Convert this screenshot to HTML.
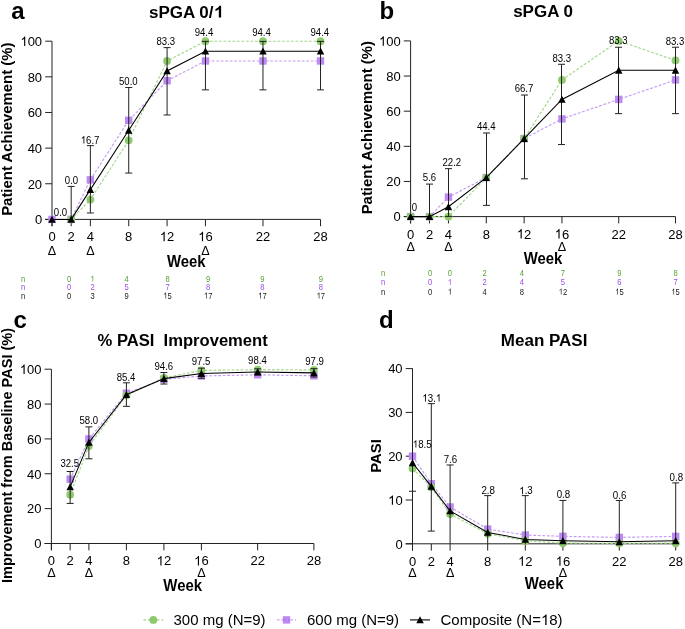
<!DOCTYPE html>
<html><head><meta charset="utf-8"><style>
html,body{margin:0;padding:0;background:#fff;}
body{width:685px;height:629px;overflow:hidden;}
svg{display:block;font-family:"Liberation Sans", sans-serif;will-change:transform;}
</style></head><body>
<svg width="685" height="629" viewBox="0 0 685 629">
<rect width="685" height="629" fill="#fff"/>
<line x1="52" y1="226.2" x2="52" y2="41.2" stroke="#222" stroke-width="1" />
<line x1="45.2" y1="219.4" x2="320.52" y2="219.4" stroke="#222" stroke-width="1" />
<line x1="45.2" y1="219.4" x2="52" y2="219.4" stroke="#222" stroke-width="1" />
<text transform="translate(42.1,224.25) scale(0.9489,1)" font-size="13.7" text-anchor="end" fill="#000" >0</text>
<line x1="45.2" y1="183.76" x2="52" y2="183.76" stroke="#222" stroke-width="1" />
<text transform="translate(42.1,188.61) scale(0.9489,1)" font-size="13.7" text-anchor="end" fill="#000" >20</text>
<line x1="45.2" y1="148.12" x2="52" y2="148.12" stroke="#222" stroke-width="1" />
<text transform="translate(42.1,152.97) scale(0.9489,1)" font-size="13.7" text-anchor="end" fill="#000" >40</text>
<line x1="45.2" y1="112.48" x2="52" y2="112.48" stroke="#222" stroke-width="1" />
<text transform="translate(42.1,117.33) scale(0.9489,1)" font-size="13.7" text-anchor="end" fill="#000" >60</text>
<line x1="45.2" y1="76.84" x2="52" y2="76.84" stroke="#222" stroke-width="1" />
<text transform="translate(42.1,81.69) scale(0.9489,1)" font-size="13.7" text-anchor="end" fill="#000" >80</text>
<line x1="45.2" y1="41.2" x2="52" y2="41.2" stroke="#222" stroke-width="1" />
<g transform="translate(42.1,46.05) scale(0.9489,1)" fill="#000"><path transform="translate(-22.858,0) scale(0.00669,-0.00669)" d="M763,0L583,0L583,1102Q480,1009 223,889L223,1055Q430,1153 530,1269Q590,1336 646,1409L763,1409Z"/><text x="-15.24" font-size="13.7" >00</text></g>
<line x1="52" y1="219.4" x2="52" y2="226.2" stroke="#222" stroke-width="1" />
<text transform="translate(52,241.3) scale(0.9489,1)" font-size="13.7" text-anchor="middle" fill="#000" >0</text>
<line x1="71.18" y1="219.4" x2="71.18" y2="226.2" stroke="#222" stroke-width="1" />
<text transform="translate(71.18,241.3) scale(0.9489,1)" font-size="13.7" text-anchor="middle" fill="#000" >2</text>
<line x1="90.36" y1="219.4" x2="90.36" y2="226.2" stroke="#222" stroke-width="1" />
<text transform="translate(90.36,241.3) scale(0.9489,1)" font-size="13.7" text-anchor="middle" fill="#000" >4</text>
<line x1="128.72" y1="219.4" x2="128.72" y2="226.2" stroke="#222" stroke-width="1" />
<text transform="translate(128.72,241.3) scale(0.9489,1)" font-size="13.7" text-anchor="middle" fill="#000" >8</text>
<line x1="167.08" y1="219.4" x2="167.08" y2="226.2" stroke="#222" stroke-width="1" />
<g transform="translate(167.08,241.3) scale(0.9489,1)" fill="#000"><path transform="translate(-7.619,0) scale(0.00669,-0.00669)" d="M763,0L583,0L583,1102Q480,1009 223,889L223,1055Q430,1153 530,1269Q590,1336 646,1409L763,1409Z"/><text x="0" font-size="13.7" >2</text></g>
<line x1="205.44" y1="219.4" x2="205.44" y2="226.2" stroke="#222" stroke-width="1" />
<g transform="translate(205.44,241.3) scale(0.9489,1)" fill="#000"><path transform="translate(-7.619,0) scale(0.00669,-0.00669)" d="M763,0L583,0L583,1102Q480,1009 223,889L223,1055Q430,1153 530,1269Q590,1336 646,1409L763,1409Z"/><text x="0" font-size="13.7" >6</text></g>
<line x1="262.98" y1="219.4" x2="262.98" y2="226.2" stroke="#222" stroke-width="1" />
<text transform="translate(262.98,241.3) scale(0.9489,1)" font-size="13.7" text-anchor="middle" fill="#000" >22</text>
<line x1="320.52" y1="219.4" x2="320.52" y2="226.2" stroke="#222" stroke-width="1" />
<text transform="translate(320.52,241.3) scale(0.9489,1)" font-size="13.7" text-anchor="middle" fill="#000" >28</text>
<text transform="translate(52,254.6) scale(0.9524,1)" font-size="13.23" text-anchor="middle" fill="#000" >Δ</text>
<text transform="translate(90.36,254.6) scale(0.9524,1)" font-size="13.23" text-anchor="middle" fill="#000" >Δ</text>
<text transform="translate(205.44,254.6) scale(0.9524,1)" font-size="13.23" text-anchor="middle" fill="#000" >Δ</text>
<text transform="translate(186.26,267) scale(0.9524,1)" font-size="15.65" text-anchor="middle" font-weight="bold" fill="#000" >Week</text>
<text transform="translate(12,129.2) rotate(-90) scale(1.0000,1)" font-size="14.9" text-anchor="middle" font-weight="bold" fill="#000" >Patient Achievement (%)</text>
<g transform="translate(186.26,17.6) scale(0.9804,1)" fill="#000"><text x="-38.07" font-size="17.34" font-weight="bold" xml:space="preserve">sPGA 0/</text><path transform="translate(28.427,0) scale(0.00847,-0.00847)" d="M843,0L562,0L562,996Q400,865 160,788L160,1026Q300,1072 440,1173Q590,1278 640,1409L843,1409Z"/></g>
<text transform="translate(11.2,18.7) scale(1.0000,1)" font-size="24" text-anchor="start" font-weight="bold" fill="#000" >a</text>
<path d="M52,219.4 L71.18,219.4 L90.36,179.84 L128.72,120.32 L167.08,80.76 L205.44,60.98 L262.98,60.98 L320.52,60.98" fill="none" stroke="#c59cf3" stroke-width="1.15" stroke-dasharray="2.8 1.7"/>
<rect x="48.3" y="215.7" width="7.4" height="7.4" fill="#bd89f2"/>
<rect x="67.48" y="215.7" width="7.4" height="7.4" fill="#bd89f2"/>
<rect x="86.66" y="176.14" width="7.4" height="7.4" fill="#bd89f2"/>
<rect x="125.02" y="116.62" width="7.4" height="7.4" fill="#bd89f2"/>
<rect x="163.38" y="77.06" width="7.4" height="7.4" fill="#bd89f2"/>
<rect x="201.74" y="57.28" width="7.4" height="7.4" fill="#bd89f2"/>
<rect x="259.28" y="57.28" width="7.4" height="7.4" fill="#bd89f2"/>
<rect x="316.82" y="57.28" width="7.4" height="7.4" fill="#bd89f2"/>
<path d="M71.18,219.4 L90.36,199.62 L128.72,140.28 L167.08,60.98 L205.44,41.2 L262.98,41.2 L320.52,41.2" fill="none" stroke="#a3d88b" stroke-width="1.15" stroke-dasharray="2.8 1.7"/>
<circle cx="71.18" cy="219.4" r="3.9" fill="#8fcb6e"/>
<circle cx="90.36" cy="199.62" r="3.9" fill="#8fcb6e"/>
<circle cx="128.72" cy="140.28" r="3.9" fill="#8fcb6e"/>
<circle cx="167.08" cy="60.98" r="3.9" fill="#8fcb6e"/>
<circle cx="205.44" cy="41.2" r="3.9" fill="#8fcb6e"/>
<circle cx="262.98" cy="41.2" r="3.9" fill="#8fcb6e"/>
<circle cx="320.52" cy="41.2" r="3.9" fill="#8fcb6e"/>
<line x1="71.18" y1="219.4" x2="71.18" y2="186.43" stroke="#222" stroke-width="1" />
<line x1="67.68" y1="186.43" x2="74.68" y2="186.43" stroke="#222" stroke-width="1" />
<line x1="90.36" y1="212.98" x2="90.36" y2="145.63" stroke="#222" stroke-width="1" />
<line x1="86.86" y1="212.98" x2="93.86" y2="212.98" stroke="#222" stroke-width="1" />
<line x1="86.86" y1="145.63" x2="93.86" y2="145.63" stroke="#222" stroke-width="1" />
<line x1="128.72" y1="173.07" x2="128.72" y2="87.53" stroke="#222" stroke-width="1" />
<line x1="125.22" y1="173.07" x2="132.22" y2="173.07" stroke="#222" stroke-width="1" />
<line x1="125.22" y1="87.53" x2="132.22" y2="87.53" stroke="#222" stroke-width="1" />
<line x1="167.08" y1="114.97" x2="167.08" y2="47.62" stroke="#222" stroke-width="1" />
<line x1="163.58" y1="114.97" x2="170.58" y2="114.97" stroke="#222" stroke-width="1" />
<line x1="163.58" y1="47.62" x2="170.58" y2="47.62" stroke="#222" stroke-width="1" />
<line x1="205.44" y1="89.85" x2="205.44" y2="41.38" stroke="#222" stroke-width="1" />
<line x1="201.94" y1="89.85" x2="208.94" y2="89.85" stroke="#222" stroke-width="1" />
<line x1="201.94" y1="41.38" x2="208.94" y2="41.38" stroke="#222" stroke-width="1" />
<line x1="262.98" y1="89.85" x2="262.98" y2="41.38" stroke="#222" stroke-width="1" />
<line x1="259.48" y1="89.85" x2="266.48" y2="89.85" stroke="#222" stroke-width="1" />
<line x1="259.48" y1="41.38" x2="266.48" y2="41.38" stroke="#222" stroke-width="1" />
<line x1="320.52" y1="89.85" x2="320.52" y2="41.38" stroke="#222" stroke-width="1" />
<line x1="317.02" y1="89.85" x2="324.02" y2="89.85" stroke="#222" stroke-width="1" />
<line x1="317.02" y1="41.38" x2="324.02" y2="41.38" stroke="#222" stroke-width="1" />
<path d="M52,219.4 L71.18,219.4 L90.36,189.64 L128.72,130.3 L167.08,70.96 L205.44,51.18 L262.98,51.18 L320.52,51.18" fill="none" stroke="#000" stroke-width="1.05"/>
<path d="M48.25,222.8 L55.75,222.8 L52,215.7 Z" fill="#000"/>
<path d="M67.43,222.8 L74.93,222.8 L71.18,215.7 Z" fill="#000"/>
<path d="M86.61,193.04 L94.11,193.04 L90.36,185.94 Z" fill="#000"/>
<path d="M124.97,133.7 L132.47,133.7 L128.72,126.6 Z" fill="#000"/>
<path d="M163.33,74.36 L170.83,74.36 L167.08,67.26 Z" fill="#000"/>
<path d="M201.69,54.58 L209.19,54.58 L205.44,47.48 Z" fill="#000"/>
<path d="M259.23,54.58 L266.73,54.58 L262.98,47.48 Z" fill="#000"/>
<path d="M316.77,54.58 L324.27,54.58 L320.52,47.48 Z" fill="#000"/>
<text transform="translate(60.5,216.1) scale(0.8889,1)" font-size="10.8" text-anchor="middle" fill="#000" >0.0</text>
<text transform="translate(71.5,183.7) scale(0.8889,1)" font-size="10.8" text-anchor="middle" fill="#000" >0.0</text>
<g transform="translate(90.1,143.5) scale(0.8889,1)" fill="#000"><path transform="translate(-10.510,0) scale(0.00527,-0.00527)" d="M763,0L583,0L583,1102Q480,1009 223,889L223,1055Q430,1153 530,1269Q590,1336 646,1409L763,1409Z"/><text x="-4.5" font-size="10.8" >6.7</text></g>
<text transform="translate(128.3,84.9) scale(0.8889,1)" font-size="10.8" text-anchor="middle" fill="#000" >50.0</text>
<text transform="translate(165.7,44.9) scale(0.8889,1)" font-size="10.8" text-anchor="middle" fill="#000" >83.3</text>
<text transform="translate(204,36.4) scale(0.8889,1)" font-size="10.8" text-anchor="middle" fill="#000" >94.4</text>
<text transform="translate(261.5,36.4) scale(0.8889,1)" font-size="10.8" text-anchor="middle" fill="#000" >94.4</text>
<text transform="translate(319.8,36.4) scale(0.8889,1)" font-size="10.8" text-anchor="middle" fill="#000" >94.4</text>
<text transform="translate(23,281.7) scale(0.8636,1)" font-size="8.8" text-anchor="middle" fill="#5a9f3a" >n</text>
<text transform="translate(69.2,281.7) scale(0.8636,1)" font-size="8.8" text-anchor="middle" fill="#5a9f3a" >0</text>
<g transform="translate(92.5,281.7) scale(0.8636,1)" fill="#5a9f3a"><path transform="translate(-2.447,0) scale(0.00430,-0.00430)" d="M763,0L583,0L583,1102Q480,1009 223,889L223,1055Q430,1153 530,1269Q590,1336 646,1409L763,1409Z"/></g>
<text transform="translate(126.5,281.7) scale(0.8636,1)" font-size="8.8" text-anchor="middle" fill="#5a9f3a" >4</text>
<text transform="translate(167.5,281.7) scale(0.8636,1)" font-size="8.8" text-anchor="middle" fill="#5a9f3a" >8</text>
<text transform="translate(208.2,281.7) scale(0.8636,1)" font-size="8.8" text-anchor="middle" fill="#5a9f3a" >9</text>
<text transform="translate(262.4,281.7) scale(0.8636,1)" font-size="8.8" text-anchor="middle" fill="#5a9f3a" >9</text>
<text transform="translate(320.8,281.7) scale(0.8636,1)" font-size="8.8" text-anchor="middle" fill="#5a9f3a" >9</text>
<text transform="translate(23,290.1) scale(0.8636,1)" font-size="8.8" text-anchor="middle" fill="#9e4ee6" >n</text>
<text transform="translate(69.2,290.1) scale(0.8636,1)" font-size="8.8" text-anchor="middle" fill="#9e4ee6" >0</text>
<text transform="translate(92.5,290.1) scale(0.8636,1)" font-size="8.8" text-anchor="middle" fill="#9e4ee6" >2</text>
<text transform="translate(126.5,290.1) scale(0.8636,1)" font-size="8.8" text-anchor="middle" fill="#9e4ee6" >5</text>
<text transform="translate(167.5,290.1) scale(0.8636,1)" font-size="8.8" text-anchor="middle" fill="#9e4ee6" >7</text>
<text transform="translate(208.2,290.1) scale(0.8636,1)" font-size="8.8" text-anchor="middle" fill="#9e4ee6" >8</text>
<text transform="translate(262.4,290.1) scale(0.8636,1)" font-size="8.8" text-anchor="middle" fill="#9e4ee6" >8</text>
<text transform="translate(320.8,290.1) scale(0.8636,1)" font-size="8.8" text-anchor="middle" fill="#9e4ee6" >8</text>
<text transform="translate(23,298.5) scale(0.8636,1)" font-size="8.8" text-anchor="middle" fill="#222" >n</text>
<text transform="translate(69.2,298.5) scale(0.8636,1)" font-size="8.8" text-anchor="middle" fill="#222" >0</text>
<text transform="translate(92.5,298.5) scale(0.8636,1)" font-size="8.8" text-anchor="middle" fill="#222" >3</text>
<text transform="translate(126.5,298.5) scale(0.8636,1)" font-size="8.8" text-anchor="middle" fill="#222" >9</text>
<g transform="translate(167.5,298.5) scale(0.8636,1)" fill="#222"><path transform="translate(-4.894,0) scale(0.00430,-0.00430)" d="M763,0L583,0L583,1102Q480,1009 223,889L223,1055Q430,1153 530,1269Q590,1336 646,1409L763,1409Z"/><text x="0" font-size="8.8" >5</text></g>
<g transform="translate(208.2,298.5) scale(0.8636,1)" fill="#222"><path transform="translate(-4.894,0) scale(0.00430,-0.00430)" d="M763,0L583,0L583,1102Q480,1009 223,889L223,1055Q430,1153 530,1269Q590,1336 646,1409L763,1409Z"/><text x="0" font-size="8.8" >7</text></g>
<g transform="translate(262.4,298.5) scale(0.8636,1)" fill="#222"><path transform="translate(-4.894,0) scale(0.00430,-0.00430)" d="M763,0L583,0L583,1102Q480,1009 223,889L223,1055Q430,1153 530,1269Q590,1336 646,1409L763,1409Z"/><text x="0" font-size="8.8" >7</text></g>
<g transform="translate(320.8,298.5) scale(0.8636,1)" fill="#222"><path transform="translate(-4.894,0) scale(0.00430,-0.00430)" d="M763,0L583,0L583,1102Q480,1009 223,889L223,1055Q430,1153 530,1269Q590,1336 646,1409L763,1409Z"/><text x="0" font-size="8.8" >7</text></g>
<line x1="410.6" y1="223.4" x2="410.6" y2="40.9" stroke="#222" stroke-width="1" />
<line x1="403.8" y1="216.6" x2="675.48" y2="216.6" stroke="#222" stroke-width="1" />
<line x1="403.8" y1="216.6" x2="410.6" y2="216.6" stroke="#222" stroke-width="1" />
<text transform="translate(400.7,221.45) scale(0.9489,1)" font-size="13.7" text-anchor="end" fill="#000" >0</text>
<line x1="403.8" y1="181.46" x2="410.6" y2="181.46" stroke="#222" stroke-width="1" />
<text transform="translate(400.7,186.31) scale(0.9489,1)" font-size="13.7" text-anchor="end" fill="#000" >20</text>
<line x1="403.8" y1="146.32" x2="410.6" y2="146.32" stroke="#222" stroke-width="1" />
<text transform="translate(400.7,151.17) scale(0.9489,1)" font-size="13.7" text-anchor="end" fill="#000" >40</text>
<line x1="403.8" y1="111.18" x2="410.6" y2="111.18" stroke="#222" stroke-width="1" />
<text transform="translate(400.7,116.03) scale(0.9489,1)" font-size="13.7" text-anchor="end" fill="#000" >60</text>
<line x1="403.8" y1="76.04" x2="410.6" y2="76.04" stroke="#222" stroke-width="1" />
<text transform="translate(400.7,80.89) scale(0.9489,1)" font-size="13.7" text-anchor="end" fill="#000" >80</text>
<line x1="403.8" y1="40.9" x2="410.6" y2="40.9" stroke="#222" stroke-width="1" />
<g transform="translate(400.7,45.75) scale(0.9489,1)" fill="#000"><path transform="translate(-22.858,0) scale(0.00669,-0.00669)" d="M763,0L583,0L583,1102Q480,1009 223,889L223,1055Q430,1153 530,1269Q590,1336 646,1409L763,1409Z"/><text x="-15.24" font-size="13.7" >00</text></g>
<line x1="410.6" y1="216.6" x2="410.6" y2="223.4" stroke="#222" stroke-width="1" />
<text transform="translate(410.6,238.5) scale(0.9489,1)" font-size="13.7" text-anchor="middle" fill="#000" >0</text>
<line x1="429.52" y1="216.6" x2="429.52" y2="223.4" stroke="#222" stroke-width="1" />
<text transform="translate(429.52,238.5) scale(0.9489,1)" font-size="13.7" text-anchor="middle" fill="#000" >2</text>
<line x1="448.44" y1="216.6" x2="448.44" y2="223.4" stroke="#222" stroke-width="1" />
<text transform="translate(448.44,238.5) scale(0.9489,1)" font-size="13.7" text-anchor="middle" fill="#000" >4</text>
<line x1="486.28" y1="216.6" x2="486.28" y2="223.4" stroke="#222" stroke-width="1" />
<text transform="translate(486.28,238.5) scale(0.9489,1)" font-size="13.7" text-anchor="middle" fill="#000" >8</text>
<line x1="524.12" y1="216.6" x2="524.12" y2="223.4" stroke="#222" stroke-width="1" />
<g transform="translate(524.12,238.5) scale(0.9489,1)" fill="#000"><path transform="translate(-7.619,0) scale(0.00669,-0.00669)" d="M763,0L583,0L583,1102Q480,1009 223,889L223,1055Q430,1153 530,1269Q590,1336 646,1409L763,1409Z"/><text x="0" font-size="13.7" >2</text></g>
<line x1="561.96" y1="216.6" x2="561.96" y2="223.4" stroke="#222" stroke-width="1" />
<g transform="translate(561.96,238.5) scale(0.9489,1)" fill="#000"><path transform="translate(-7.619,0) scale(0.00669,-0.00669)" d="M763,0L583,0L583,1102Q480,1009 223,889L223,1055Q430,1153 530,1269Q590,1336 646,1409L763,1409Z"/><text x="0" font-size="13.7" >6</text></g>
<line x1="618.72" y1="216.6" x2="618.72" y2="223.4" stroke="#222" stroke-width="1" />
<text transform="translate(618.72,238.5) scale(0.9489,1)" font-size="13.7" text-anchor="middle" fill="#000" >22</text>
<line x1="675.48" y1="216.6" x2="675.48" y2="223.4" stroke="#222" stroke-width="1" />
<text transform="translate(675.48,238.5) scale(0.9489,1)" font-size="13.7" text-anchor="middle" fill="#000" >28</text>
<text transform="translate(410.6,251.3) scale(0.9524,1)" font-size="13.23" text-anchor="middle" fill="#000" >Δ</text>
<text transform="translate(448.44,251.3) scale(0.9524,1)" font-size="13.23" text-anchor="middle" fill="#000" >Δ</text>
<text transform="translate(561.96,251.3) scale(0.9524,1)" font-size="13.23" text-anchor="middle" fill="#000" >Δ</text>
<text transform="translate(543.04,263.6) scale(0.9524,1)" font-size="15.65" text-anchor="middle" font-weight="bold" fill="#000" >Week</text>
<text transform="translate(371.5,127.7) rotate(-90) scale(1.0000,1)" font-size="14.9" text-anchor="middle" font-weight="bold" fill="#000" >Patient Achievement (%)</text>
<text transform="translate(543.04,17.2) scale(0.9804,1)" font-size="17.34" text-anchor="middle" font-weight="bold" fill="#000" xml:space="preserve">sPGA 0</text>
<text transform="translate(379.6,19.1) scale(1.0000,1)" font-size="24" text-anchor="start" font-weight="bold" fill="#000" >b</text>
<path d="M410.6,216.6 L429.52,216.6 L448.44,197.1 L486.28,177.59 L524.12,138.59 L561.96,118.91 L618.72,99.41 L675.48,79.91" fill="none" stroke="#c59cf3" stroke-width="1.15" stroke-dasharray="2.8 1.7"/>
<rect x="406.9" y="212.9" width="7.4" height="7.4" fill="#bd89f2"/>
<rect x="425.82" y="212.9" width="7.4" height="7.4" fill="#bd89f2"/>
<rect x="444.74" y="193.4" width="7.4" height="7.4" fill="#bd89f2"/>
<rect x="482.58" y="173.89" width="7.4" height="7.4" fill="#bd89f2"/>
<rect x="520.42" y="134.89" width="7.4" height="7.4" fill="#bd89f2"/>
<rect x="558.26" y="115.21" width="7.4" height="7.4" fill="#bd89f2"/>
<rect x="615.02" y="95.71" width="7.4" height="7.4" fill="#bd89f2"/>
<rect x="671.78" y="76.21" width="7.4" height="7.4" fill="#bd89f2"/>
<path d="M410.6,216.6 L429.52,216.6 L448.44,216.6 L486.28,177.59 L524.12,138.59 L561.96,79.91 L618.72,40.9 L675.48,60.4" fill="none" stroke="#a3d88b" stroke-width="1.15" stroke-dasharray="2.8 1.7"/>
<circle cx="410.6" cy="216.6" r="3.9" fill="#8fcb6e"/>
<circle cx="429.52" cy="216.6" r="3.9" fill="#8fcb6e"/>
<circle cx="448.44" cy="216.6" r="3.9" fill="#8fcb6e"/>
<circle cx="486.28" cy="177.59" r="3.9" fill="#8fcb6e"/>
<circle cx="524.12" cy="138.59" r="3.9" fill="#8fcb6e"/>
<circle cx="561.96" cy="79.91" r="3.9" fill="#8fcb6e"/>
<circle cx="618.72" cy="40.9" r="3.9" fill="#8fcb6e"/>
<circle cx="675.48" cy="60.4" r="3.9" fill="#8fcb6e"/>
<line x1="429.5" y1="216.6" x2="429.5" y2="184.1" stroke="#222" stroke-width="1" />
<line x1="426" y1="184.1" x2="433" y2="184.1" stroke="#222" stroke-width="1" />
<line x1="448.5" y1="216.42" x2="448.5" y2="168.63" stroke="#222" stroke-width="1" />
<line x1="445" y1="216.42" x2="452" y2="216.42" stroke="#222" stroke-width="1" />
<line x1="445" y1="168.63" x2="452" y2="168.63" stroke="#222" stroke-width="1" />
<line x1="486.5" y1="205.36" x2="486.5" y2="132.97" stroke="#222" stroke-width="1" />
<line x1="483" y1="205.36" x2="490" y2="205.36" stroke="#222" stroke-width="1" />
<line x1="483" y1="132.97" x2="490" y2="132.97" stroke="#222" stroke-width="1" />
<line x1="524.5" y1="178.82" x2="524.5" y2="95.02" stroke="#222" stroke-width="1" />
<line x1="521" y1="178.82" x2="528" y2="178.82" stroke="#222" stroke-width="1" />
<line x1="521" y1="95.02" x2="528" y2="95.02" stroke="#222" stroke-width="1" />
<line x1="561.5" y1="144.56" x2="561.5" y2="64.27" stroke="#222" stroke-width="1" />
<line x1="558" y1="144.56" x2="565" y2="144.56" stroke="#222" stroke-width="1" />
<line x1="558" y1="64.27" x2="565" y2="64.27" stroke="#222" stroke-width="1" />
<line x1="618.5" y1="113.64" x2="618.5" y2="47.23" stroke="#222" stroke-width="1" />
<line x1="615" y1="113.64" x2="622" y2="113.64" stroke="#222" stroke-width="1" />
<line x1="615" y1="47.23" x2="622" y2="47.23" stroke="#222" stroke-width="1" />
<line x1="675.5" y1="113.64" x2="675.5" y2="47.23" stroke="#222" stroke-width="1" />
<line x1="672" y1="113.64" x2="679" y2="113.64" stroke="#222" stroke-width="1" />
<line x1="672" y1="47.23" x2="679" y2="47.23" stroke="#222" stroke-width="1" />
<path d="M410.6,216.6 L429.52,216.6 L448.44,206.76 L486.28,177.59 L524.12,138.59 L561.96,99.41 L618.72,70.24 L675.48,70.24" fill="none" stroke="#000" stroke-width="1.05"/>
<path d="M406.85,220 L414.35,220 L410.6,212.9 Z" fill="#000"/>
<path d="M425.77,220 L433.27,220 L429.52,212.9 Z" fill="#000"/>
<path d="M444.69,210.16 L452.19,210.16 L448.44,203.06 Z" fill="#000"/>
<path d="M482.53,180.99 L490.03,180.99 L486.28,173.89 Z" fill="#000"/>
<path d="M520.37,141.99 L527.87,141.99 L524.12,134.89 Z" fill="#000"/>
<path d="M558.21,102.81 L565.71,102.81 L561.96,95.71 Z" fill="#000"/>
<path d="M614.97,73.64 L622.47,73.64 L618.72,66.54 Z" fill="#000"/>
<path d="M671.73,73.64 L679.23,73.64 L675.48,66.54 Z" fill="#000"/>
<text transform="translate(414.3,211.2) scale(0.8889,1)" font-size="10.8" text-anchor="middle" fill="#000" >0</text>
<text transform="translate(429.5,181) scale(0.8889,1)" font-size="10.8" text-anchor="middle" fill="#000" >5.6</text>
<text transform="translate(451.8,166.4) scale(0.8889,1)" font-size="10.8" text-anchor="middle" fill="#000" >22.2</text>
<text transform="translate(486.2,130) scale(0.8889,1)" font-size="10.8" text-anchor="middle" fill="#000" >44.4</text>
<text transform="translate(524,91.7) scale(0.8889,1)" font-size="10.8" text-anchor="middle" fill="#000" >66.7</text>
<text transform="translate(561.7,61.7) scale(0.8889,1)" font-size="10.8" text-anchor="middle" fill="#000" >83.3</text>
<text transform="translate(618.3,44.1) scale(0.8889,1)" font-size="10.8" text-anchor="middle" fill="#000" >83.3</text>
<text transform="translate(675,44.8) scale(0.8889,1)" font-size="10.8" text-anchor="middle" fill="#000" >83.3</text>
<text transform="translate(383,275.6) scale(0.8636,1)" font-size="8.8" text-anchor="middle" fill="#5a9f3a" >n</text>
<text transform="translate(430.1,275.6) scale(0.8636,1)" font-size="8.8" text-anchor="middle" fill="#5a9f3a" >0</text>
<text transform="translate(449.9,275.6) scale(0.8636,1)" font-size="8.8" text-anchor="middle" fill="#5a9f3a" >0</text>
<text transform="translate(484.6,275.6) scale(0.8636,1)" font-size="8.8" text-anchor="middle" fill="#5a9f3a" >2</text>
<text transform="translate(521.8,275.6) scale(0.8636,1)" font-size="8.8" text-anchor="middle" fill="#5a9f3a" >4</text>
<text transform="translate(562.9,275.6) scale(0.8636,1)" font-size="8.8" text-anchor="middle" fill="#5a9f3a" >7</text>
<text transform="translate(619.4,275.6) scale(0.8636,1)" font-size="8.8" text-anchor="middle" fill="#5a9f3a" >9</text>
<text transform="translate(675.5,275.6) scale(0.8636,1)" font-size="8.8" text-anchor="middle" fill="#5a9f3a" >8</text>
<text transform="translate(383,285) scale(0.8636,1)" font-size="8.8" text-anchor="middle" fill="#9e4ee6" >n</text>
<text transform="translate(430.1,285) scale(0.8636,1)" font-size="8.8" text-anchor="middle" fill="#9e4ee6" >0</text>
<g transform="translate(449.9,285) scale(0.8636,1)" fill="#9e4ee6"><path transform="translate(-2.447,0) scale(0.00430,-0.00430)" d="M763,0L583,0L583,1102Q480,1009 223,889L223,1055Q430,1153 530,1269Q590,1336 646,1409L763,1409Z"/></g>
<text transform="translate(484.6,285) scale(0.8636,1)" font-size="8.8" text-anchor="middle" fill="#9e4ee6" >2</text>
<text transform="translate(521.8,285) scale(0.8636,1)" font-size="8.8" text-anchor="middle" fill="#9e4ee6" >4</text>
<text transform="translate(562.9,285) scale(0.8636,1)" font-size="8.8" text-anchor="middle" fill="#9e4ee6" >5</text>
<text transform="translate(619.4,285) scale(0.8636,1)" font-size="8.8" text-anchor="middle" fill="#9e4ee6" >6</text>
<text transform="translate(675.5,285) scale(0.8636,1)" font-size="8.8" text-anchor="middle" fill="#9e4ee6" >7</text>
<text transform="translate(383,294.6) scale(0.8636,1)" font-size="8.8" text-anchor="middle" fill="#222" >n</text>
<text transform="translate(430.1,294.6) scale(0.8636,1)" font-size="8.8" text-anchor="middle" fill="#222" >0</text>
<g transform="translate(449.9,294.6) scale(0.8636,1)" fill="#222"><path transform="translate(-2.447,0) scale(0.00430,-0.00430)" d="M763,0L583,0L583,1102Q480,1009 223,889L223,1055Q430,1153 530,1269Q590,1336 646,1409L763,1409Z"/></g>
<text transform="translate(484.6,294.6) scale(0.8636,1)" font-size="8.8" text-anchor="middle" fill="#222" >4</text>
<text transform="translate(521.8,294.6) scale(0.8636,1)" font-size="8.8" text-anchor="middle" fill="#222" >8</text>
<g transform="translate(562.9,294.6) scale(0.8636,1)" fill="#222"><path transform="translate(-4.894,0) scale(0.00430,-0.00430)" d="M763,0L583,0L583,1102Q480,1009 223,889L223,1055Q430,1153 530,1269Q590,1336 646,1409L763,1409Z"/><text x="0" font-size="8.8" >2</text></g>
<g transform="translate(619.4,294.6) scale(0.8636,1)" fill="#222"><path transform="translate(-4.894,0) scale(0.00430,-0.00430)" d="M763,0L583,0L583,1102Q480,1009 223,889L223,1055Q430,1153 530,1269Q590,1336 646,1409L763,1409Z"/><text x="0" font-size="8.8" >5</text></g>
<g transform="translate(675.5,294.6) scale(0.8636,1)" fill="#222"><path transform="translate(-4.894,0) scale(0.00430,-0.00430)" d="M763,0L583,0L583,1102Q480,1009 223,889L223,1055Q430,1153 530,1269Q590,1336 646,1409L763,1409Z"/><text x="0" font-size="8.8" >5</text></g>
<line x1="51.4" y1="550.3" x2="51.4" y2="369.2" stroke="#222" stroke-width="1" />
<line x1="44.6" y1="543.5" x2="313.9" y2="543.5" stroke="#222" stroke-width="1" />
<line x1="44.6" y1="543.5" x2="51.4" y2="543.5" stroke="#222" stroke-width="1" />
<text transform="translate(41.5,548.35) scale(0.9489,1)" font-size="13.7" text-anchor="end" fill="#000" >0</text>
<line x1="44.6" y1="508.64" x2="51.4" y2="508.64" stroke="#222" stroke-width="1" />
<text transform="translate(41.5,513.49) scale(0.9489,1)" font-size="13.7" text-anchor="end" fill="#000" >20</text>
<line x1="44.6" y1="473.78" x2="51.4" y2="473.78" stroke="#222" stroke-width="1" />
<text transform="translate(41.5,478.63) scale(0.9489,1)" font-size="13.7" text-anchor="end" fill="#000" >40</text>
<line x1="44.6" y1="438.92" x2="51.4" y2="438.92" stroke="#222" stroke-width="1" />
<text transform="translate(41.5,443.77) scale(0.9489,1)" font-size="13.7" text-anchor="end" fill="#000" >60</text>
<line x1="44.6" y1="404.06" x2="51.4" y2="404.06" stroke="#222" stroke-width="1" />
<text transform="translate(41.5,408.91) scale(0.9489,1)" font-size="13.7" text-anchor="end" fill="#000" >80</text>
<line x1="44.6" y1="369.2" x2="51.4" y2="369.2" stroke="#222" stroke-width="1" />
<g transform="translate(41.5,374.05) scale(0.9489,1)" fill="#000"><path transform="translate(-22.858,0) scale(0.00669,-0.00669)" d="M763,0L583,0L583,1102Q480,1009 223,889L223,1055Q430,1153 530,1269Q590,1336 646,1409L763,1409Z"/><text x="-15.24" font-size="13.7" >00</text></g>
<line x1="51.4" y1="543.5" x2="51.4" y2="550.3" stroke="#222" stroke-width="1" />
<text transform="translate(51.4,565.4) scale(0.9489,1)" font-size="13.7" text-anchor="middle" fill="#000" >0</text>
<line x1="70.15" y1="543.5" x2="70.15" y2="550.3" stroke="#222" stroke-width="1" />
<text transform="translate(70.15,565.4) scale(0.9489,1)" font-size="13.7" text-anchor="middle" fill="#000" >2</text>
<line x1="88.9" y1="543.5" x2="88.9" y2="550.3" stroke="#222" stroke-width="1" />
<text transform="translate(88.9,565.4) scale(0.9489,1)" font-size="13.7" text-anchor="middle" fill="#000" >4</text>
<line x1="126.4" y1="543.5" x2="126.4" y2="550.3" stroke="#222" stroke-width="1" />
<text transform="translate(126.4,565.4) scale(0.9489,1)" font-size="13.7" text-anchor="middle" fill="#000" >8</text>
<line x1="163.9" y1="543.5" x2="163.9" y2="550.3" stroke="#222" stroke-width="1" />
<g transform="translate(163.9,565.4) scale(0.9489,1)" fill="#000"><path transform="translate(-7.619,0) scale(0.00669,-0.00669)" d="M763,0L583,0L583,1102Q480,1009 223,889L223,1055Q430,1153 530,1269Q590,1336 646,1409L763,1409Z"/><text x="0" font-size="13.7" >2</text></g>
<line x1="201.4" y1="543.5" x2="201.4" y2="550.3" stroke="#222" stroke-width="1" />
<g transform="translate(201.4,565.4) scale(0.9489,1)" fill="#000"><path transform="translate(-7.619,0) scale(0.00669,-0.00669)" d="M763,0L583,0L583,1102Q480,1009 223,889L223,1055Q430,1153 530,1269Q590,1336 646,1409L763,1409Z"/><text x="0" font-size="13.7" >6</text></g>
<line x1="257.65" y1="543.5" x2="257.65" y2="550.3" stroke="#222" stroke-width="1" />
<text transform="translate(257.65,565.4) scale(0.9489,1)" font-size="13.7" text-anchor="middle" fill="#000" >22</text>
<line x1="313.9" y1="543.5" x2="313.9" y2="550.3" stroke="#222" stroke-width="1" />
<text transform="translate(313.9,565.4) scale(0.9489,1)" font-size="13.7" text-anchor="middle" fill="#000" >28</text>
<text transform="translate(51.4,577.4) scale(0.9524,1)" font-size="13.23" text-anchor="middle" fill="#000" >Δ</text>
<text transform="translate(88.9,577.4) scale(0.9524,1)" font-size="13.23" text-anchor="middle" fill="#000" >Δ</text>
<text transform="translate(201.4,577.4) scale(0.9524,1)" font-size="13.23" text-anchor="middle" fill="#000" >Δ</text>
<text transform="translate(182.65,590.5) scale(0.9524,1)" font-size="15.65" text-anchor="middle" font-weight="bold" fill="#000" >Week</text>
<text transform="translate(11.9,455.5) rotate(-90) scale(1.0000,1)" font-size="14.55" text-anchor="middle" font-weight="bold" fill="#000" >Improvement from Baseline PASI (%)</text>
<text transform="translate(182.65,345.6) scale(0.9804,1)" font-size="16.93" text-anchor="middle" font-weight="bold" fill="#000" xml:space="preserve">% PASI  Improvement</text>
<text transform="translate(13.4,327.8) scale(1.0000,1)" font-size="24" text-anchor="start" font-weight="bold" fill="#000" >c</text>
<path d="M70.15,479.18 L88.9,438.92 L126.4,393.25 L163.9,379.31 L201.4,376 L257.65,374.78 L313.9,375.82" fill="none" stroke="#c59cf3" stroke-width="1.15" stroke-dasharray="2.8 1.7"/>
<rect x="66.45" y="475.48" width="7.4" height="7.4" fill="#bd89f2"/>
<rect x="85.2" y="435.22" width="7.4" height="7.4" fill="#bd89f2"/>
<rect x="122.7" y="389.55" width="7.4" height="7.4" fill="#bd89f2"/>
<rect x="160.2" y="375.61" width="7.4" height="7.4" fill="#bd89f2"/>
<rect x="197.7" y="372.3" width="7.4" height="7.4" fill="#bd89f2"/>
<rect x="253.95" y="371.08" width="7.4" height="7.4" fill="#bd89f2"/>
<rect x="310.2" y="372.12" width="7.4" height="7.4" fill="#bd89f2"/>
<path d="M70.15,494.7 L88.9,446.07 L126.4,395.35 L163.9,377.91 L201.4,370.42 L257.65,369.55 L313.9,369.9" fill="none" stroke="#a3d88b" stroke-width="1.15" stroke-dasharray="2.8 1.7"/>
<circle cx="70.15" cy="494.7" r="3.9" fill="#8fcb6e"/>
<circle cx="88.9" cy="446.07" r="3.9" fill="#8fcb6e"/>
<circle cx="126.4" cy="395.35" r="3.9" fill="#8fcb6e"/>
<circle cx="163.9" cy="377.91" r="3.9" fill="#8fcb6e"/>
<circle cx="201.4" cy="370.42" r="3.9" fill="#8fcb6e"/>
<circle cx="257.65" cy="369.55" r="3.9" fill="#8fcb6e"/>
<circle cx="313.9" cy="369.9" r="3.9" fill="#8fcb6e"/>
<line x1="70.15" y1="503.41" x2="70.15" y2="471.51" stroke="#222" stroke-width="1" />
<line x1="66.65" y1="503.41" x2="73.65" y2="503.41" stroke="#222" stroke-width="1" />
<line x1="66.65" y1="471.51" x2="73.65" y2="471.51" stroke="#222" stroke-width="1" />
<line x1="88.9" y1="458.79" x2="88.9" y2="426.89" stroke="#222" stroke-width="1" />
<line x1="85.4" y1="458.79" x2="92.4" y2="458.79" stroke="#222" stroke-width="1" />
<line x1="85.4" y1="426.89" x2="92.4" y2="426.89" stroke="#222" stroke-width="1" />
<line x1="126.4" y1="406.33" x2="126.4" y2="382.8" stroke="#222" stroke-width="1" />
<line x1="122.9" y1="406.33" x2="129.9" y2="406.33" stroke="#222" stroke-width="1" />
<line x1="122.9" y1="382.8" x2="129.9" y2="382.8" stroke="#222" stroke-width="1" />
<line x1="163.9" y1="384.02" x2="163.9" y2="372.51" stroke="#222" stroke-width="1" />
<line x1="160.4" y1="384.02" x2="167.4" y2="384.02" stroke="#222" stroke-width="1" />
<line x1="160.4" y1="372.51" x2="167.4" y2="372.51" stroke="#222" stroke-width="1" />
<line x1="201.4" y1="378.26" x2="201.4" y2="368.15" stroke="#222" stroke-width="1" />
<line x1="197.9" y1="378.26" x2="204.9" y2="378.26" stroke="#222" stroke-width="1" />
<line x1="197.9" y1="368.15" x2="204.9" y2="368.15" stroke="#222" stroke-width="1" />
<line x1="257.65" y1="374.78" x2="257.65" y2="368.85" stroke="#222" stroke-width="1" />
<line x1="254.15" y1="374.78" x2="261.15" y2="374.78" stroke="#222" stroke-width="1" />
<line x1="254.15" y1="368.85" x2="261.15" y2="368.85" stroke="#222" stroke-width="1" />
<line x1="313.9" y1="377.04" x2="313.9" y2="368.68" stroke="#222" stroke-width="1" />
<line x1="310.4" y1="377.04" x2="317.4" y2="377.04" stroke="#222" stroke-width="1" />
<line x1="310.4" y1="368.68" x2="317.4" y2="368.68" stroke="#222" stroke-width="1" />
<path d="M70.15,486.85 L88.9,442.41 L126.4,394.65 L163.9,378.61 L201.4,373.56 L257.65,371.99 L313.9,372.86" fill="none" stroke="#000" stroke-width="1.05"/>
<path d="M66.4,490.25 L73.9,490.25 L70.15,483.15 Z" fill="#000"/>
<path d="M85.15,445.81 L92.65,445.81 L88.9,438.71 Z" fill="#000"/>
<path d="M122.65,398.05 L130.15,398.05 L126.4,390.95 Z" fill="#000"/>
<path d="M160.15,382.01 L167.65,382.01 L163.9,374.91 Z" fill="#000"/>
<path d="M197.65,376.96 L205.15,376.96 L201.4,369.86 Z" fill="#000"/>
<path d="M253.9,375.39 L261.4,375.39 L257.65,368.29 Z" fill="#000"/>
<path d="M310.15,376.26 L317.65,376.26 L313.9,369.16 Z" fill="#000"/>
<text transform="translate(69.7,467.4) scale(0.8889,1)" font-size="10.8" text-anchor="middle" fill="#000" >32.5</text>
<text transform="translate(88.8,424) scale(0.8889,1)" font-size="10.8" text-anchor="middle" fill="#000" >58.0</text>
<text transform="translate(126.1,381) scale(0.8889,1)" font-size="10.8" text-anchor="middle" fill="#000" >85.4</text>
<text transform="translate(163.8,370.1) scale(0.8889,1)" font-size="10.8" text-anchor="middle" fill="#000" >94.6</text>
<text transform="translate(201.1,365.2) scale(0.8889,1)" font-size="10.8" text-anchor="middle" fill="#000" >97.5</text>
<text transform="translate(257.4,364.1) scale(0.8889,1)" font-size="10.8" text-anchor="middle" fill="#000" >98.4</text>
<text transform="translate(314.6,365) scale(0.8889,1)" font-size="10.8" text-anchor="middle" fill="#000" >97.9</text>
<line x1="412.5" y1="550.6" x2="412.5" y2="368.6" stroke="#222" stroke-width="1" />
<line x1="405.7" y1="543.8" x2="675.7" y2="543.8" stroke="#222" stroke-width="1" />
<line x1="405.7" y1="543.8" x2="412.5" y2="543.8" stroke="#222" stroke-width="1" />
<text transform="translate(402.6,548.65) scale(0.9489,1)" font-size="13.7" text-anchor="end" fill="#000" >0</text>
<line x1="405.7" y1="500" x2="412.5" y2="500" stroke="#222" stroke-width="1" />
<g transform="translate(402.6,504.85) scale(0.9489,1)" fill="#000"><path transform="translate(-15.239,0) scale(0.00669,-0.00669)" d="M763,0L583,0L583,1102Q480,1009 223,889L223,1055Q430,1153 530,1269Q590,1336 646,1409L763,1409Z"/><text x="-7.62" font-size="13.7" >0</text></g>
<line x1="405.7" y1="456.2" x2="412.5" y2="456.2" stroke="#222" stroke-width="1" />
<text transform="translate(402.6,461.05) scale(0.9489,1)" font-size="13.7" text-anchor="end" fill="#000" >20</text>
<line x1="405.7" y1="412.4" x2="412.5" y2="412.4" stroke="#222" stroke-width="1" />
<text transform="translate(402.6,417.25) scale(0.9489,1)" font-size="13.7" text-anchor="end" fill="#000" >30</text>
<line x1="405.7" y1="368.6" x2="412.5" y2="368.6" stroke="#222" stroke-width="1" />
<text transform="translate(402.6,373.45) scale(0.9489,1)" font-size="13.7" text-anchor="end" fill="#000" >40</text>
<line x1="412.5" y1="543.8" x2="412.5" y2="550.6" stroke="#222" stroke-width="1" />
<text transform="translate(412.5,565.7) scale(0.9489,1)" font-size="13.7" text-anchor="middle" fill="#000" >0</text>
<line x1="431.3" y1="543.8" x2="431.3" y2="550.6" stroke="#222" stroke-width="1" />
<text transform="translate(431.3,565.7) scale(0.9489,1)" font-size="13.7" text-anchor="middle" fill="#000" >2</text>
<line x1="450.1" y1="543.8" x2="450.1" y2="550.6" stroke="#222" stroke-width="1" />
<text transform="translate(450.1,565.7) scale(0.9489,1)" font-size="13.7" text-anchor="middle" fill="#000" >4</text>
<line x1="487.7" y1="543.8" x2="487.7" y2="550.6" stroke="#222" stroke-width="1" />
<text transform="translate(487.7,565.7) scale(0.9489,1)" font-size="13.7" text-anchor="middle" fill="#000" >8</text>
<line x1="525.3" y1="543.8" x2="525.3" y2="550.6" stroke="#222" stroke-width="1" />
<g transform="translate(525.3,565.7) scale(0.9489,1)" fill="#000"><path transform="translate(-7.619,0) scale(0.00669,-0.00669)" d="M763,0L583,0L583,1102Q480,1009 223,889L223,1055Q430,1153 530,1269Q590,1336 646,1409L763,1409Z"/><text x="0" font-size="13.7" >2</text></g>
<line x1="562.9" y1="543.8" x2="562.9" y2="550.6" stroke="#222" stroke-width="1" />
<g transform="translate(562.9,565.7) scale(0.9489,1)" fill="#000"><path transform="translate(-7.619,0) scale(0.00669,-0.00669)" d="M763,0L583,0L583,1102Q480,1009 223,889L223,1055Q430,1153 530,1269Q590,1336 646,1409L763,1409Z"/><text x="0" font-size="13.7" >6</text></g>
<line x1="619.3" y1="543.8" x2="619.3" y2="550.6" stroke="#222" stroke-width="1" />
<text transform="translate(619.3,565.7) scale(0.9489,1)" font-size="13.7" text-anchor="middle" fill="#000" >22</text>
<line x1="675.7" y1="543.8" x2="675.7" y2="550.6" stroke="#222" stroke-width="1" />
<text transform="translate(675.7,565.7) scale(0.9489,1)" font-size="13.7" text-anchor="middle" fill="#000" >28</text>
<text transform="translate(412.5,577.4) scale(0.9524,1)" font-size="13.23" text-anchor="middle" fill="#000" >Δ</text>
<text transform="translate(450.1,577.4) scale(0.9524,1)" font-size="13.23" text-anchor="middle" fill="#000" >Δ</text>
<text transform="translate(562.9,577.4) scale(0.9524,1)" font-size="13.23" text-anchor="middle" fill="#000" >Δ</text>
<text transform="translate(544.1,589.3) scale(0.9524,1)" font-size="15.65" text-anchor="middle" font-weight="bold" fill="#000" >Week</text>
<text transform="translate(380.9,456) rotate(-90) scale(1.0000,1)" font-size="14.9" text-anchor="middle" font-weight="bold" fill="#000" >PASI</text>
<text transform="translate(544.1,346) scale(0.9804,1)" font-size="17.34" text-anchor="middle" font-weight="bold" fill="#000" xml:space="preserve">Mean PASI</text>
<text transform="translate(378.9,328.3) scale(1.0000,1)" font-size="24" text-anchor="start" font-weight="bold" fill="#000" >d</text>
<path d="M412.5,456.2 L431.3,483.79 L450.1,507.01 L487.7,529.13 L525.3,535.04 L562.9,536.35 L619.3,537.41 L675.7,536.35" fill="none" stroke="#c59cf3" stroke-width="1.15" stroke-dasharray="2.8 1.7"/>
<rect x="408.8" y="452.5" width="7.4" height="7.4" fill="#bd89f2"/>
<rect x="427.6" y="480.09" width="7.4" height="7.4" fill="#bd89f2"/>
<rect x="446.4" y="503.31" width="7.4" height="7.4" fill="#bd89f2"/>
<rect x="484" y="525.43" width="7.4" height="7.4" fill="#bd89f2"/>
<rect x="521.6" y="531.34" width="7.4" height="7.4" fill="#bd89f2"/>
<rect x="559.2" y="532.65" width="7.4" height="7.4" fill="#bd89f2"/>
<rect x="615.6" y="533.71" width="7.4" height="7.4" fill="#bd89f2"/>
<rect x="672" y="532.65" width="7.4" height="7.4" fill="#bd89f2"/>
<path d="M412.5,468.46 L431.3,487.3 L450.1,514.02 L487.7,533.73 L525.3,540.73 L562.9,543.14 L619.3,543.36 L675.7,543.14" fill="none" stroke="#a3d88b" stroke-width="1.15" stroke-dasharray="2.8 1.7"/>
<circle cx="412.5" cy="468.46" r="3.9" fill="#8fcb6e"/>
<circle cx="431.3" cy="487.3" r="3.9" fill="#8fcb6e"/>
<circle cx="450.1" cy="514.02" r="3.9" fill="#8fcb6e"/>
<circle cx="487.7" cy="533.73" r="3.9" fill="#8fcb6e"/>
<circle cx="525.3" cy="540.73" r="3.9" fill="#8fcb6e"/>
<circle cx="562.9" cy="543.14" r="3.9" fill="#8fcb6e"/>
<circle cx="619.3" cy="543.36" r="3.9" fill="#8fcb6e"/>
<circle cx="675.7" cy="543.14" r="3.9" fill="#8fcb6e"/>
<line x1="412.5" y1="491.24" x2="412.5" y2="368.6" stroke="#222" stroke-width="1" />
<line x1="409" y1="491.24" x2="416" y2="491.24" stroke="#222" stroke-width="1" />
<line x1="431.3" y1="531.1" x2="431.3" y2="403.64" stroke="#222" stroke-width="1" />
<line x1="427.8" y1="531.1" x2="434.8" y2="531.1" stroke="#222" stroke-width="1" />
<line x1="427.8" y1="403.64" x2="434.8" y2="403.64" stroke="#222" stroke-width="1" />
<line x1="450.1" y1="543.8" x2="450.1" y2="464.96" stroke="#222" stroke-width="1" />
<line x1="446.6" y1="464.96" x2="453.6" y2="464.96" stroke="#222" stroke-width="1" />
<line x1="487.7" y1="543.8" x2="487.7" y2="495.62" stroke="#222" stroke-width="1" />
<line x1="484.2" y1="495.62" x2="491.2" y2="495.62" stroke="#222" stroke-width="1" />
<line x1="525.3" y1="543.8" x2="525.3" y2="495.62" stroke="#222" stroke-width="1" />
<line x1="521.8" y1="495.62" x2="528.8" y2="495.62" stroke="#222" stroke-width="1" />
<line x1="562.9" y1="543.8" x2="562.9" y2="500.44" stroke="#222" stroke-width="1" />
<line x1="559.4" y1="500.44" x2="566.4" y2="500.44" stroke="#222" stroke-width="1" />
<line x1="619.3" y1="543.8" x2="619.3" y2="500.44" stroke="#222" stroke-width="1" />
<line x1="615.8" y1="500.44" x2="622.8" y2="500.44" stroke="#222" stroke-width="1" />
<line x1="675.7" y1="543.8" x2="675.7" y2="482.92" stroke="#222" stroke-width="1" />
<line x1="672.2" y1="482.92" x2="679.2" y2="482.92" stroke="#222" stroke-width="1" />
<path d="M412.5,462.77 L431.3,486.42 L450.1,510.95 L487.7,532.41 L525.3,539.42 L562.9,540.73 L619.3,541.83 L675.7,540.73" fill="none" stroke="#000" stroke-width="1.05"/>
<path d="M408.75,466.17 L416.25,466.17 L412.5,459.07 Z" fill="#000"/>
<path d="M427.55,489.82 L435.05,489.82 L431.3,482.72 Z" fill="#000"/>
<path d="M446.35,514.35 L453.85,514.35 L450.1,507.25 Z" fill="#000"/>
<path d="M483.95,535.81 L491.45,535.81 L487.7,528.71 Z" fill="#000"/>
<path d="M521.55,542.82 L529.05,542.82 L525.3,535.72 Z" fill="#000"/>
<path d="M559.15,544.13 L566.65,544.13 L562.9,537.03 Z" fill="#000"/>
<path d="M615.55,545.23 L623.05,545.23 L619.3,538.13 Z" fill="#000"/>
<path d="M671.95,544.13 L679.45,544.13 L675.7,537.03 Z" fill="#000"/>
<g transform="translate(422.2,447.6) scale(0.9028,1)" fill="#000"><path transform="translate(-10.510,0) scale(0.00527,-0.00527)" d="M763,0L583,0L583,1102Q480,1009 223,889L223,1055Q430,1153 530,1269Q590,1336 646,1409L763,1409Z"/><text x="-4.5" font-size="10.8" >8.5</text></g>
<g transform="translate(431.8,401.5) scale(0.9028,1)" fill="#000"><path transform="translate(-10.510,0) scale(0.00527,-0.00527)" d="M763,0L583,0L583,1102Q480,1009 223,889L223,1055Q430,1153 530,1269Q590,1336 646,1409L763,1409Z"/><text x="-4.5" font-size="10.8" >3.</text><path transform="translate(4.504,0) scale(0.00527,-0.00527)" d="M763,0L583,0L583,1102Q480,1009 223,889L223,1055Q430,1153 530,1269Q590,1336 646,1409L763,1409Z"/></g>
<text transform="translate(450.4,463.2) scale(0.9028,1)" font-size="10.8" text-anchor="middle" fill="#000" >7.6</text>
<text transform="translate(488.2,494.2) scale(0.9028,1)" font-size="10.8" text-anchor="middle" fill="#000" >2.8</text>
<g transform="translate(526,494.2) scale(0.9028,1)" fill="#000"><path transform="translate(-7.507,0) scale(0.00527,-0.00527)" d="M763,0L583,0L583,1102Q480,1009 223,889L223,1055Q430,1153 530,1269Q590,1336 646,1409L763,1409Z"/><text x="-1.5" font-size="10.8" >.3</text></g>
<text transform="translate(563.4,497.7) scale(0.9028,1)" font-size="10.8" text-anchor="middle" fill="#000" >0.8</text>
<text transform="translate(619.6,498.7) scale(0.9028,1)" font-size="10.8" text-anchor="middle" fill="#000" >0.6</text>
<text transform="translate(676.3,480.8) scale(0.9028,1)" font-size="10.8" text-anchor="middle" fill="#000" >0.8</text>
<line x1="143.5" y1="619.9" x2="163.5" y2="619.9" stroke="#a3d88b" stroke-width="1.1" stroke-dasharray="2.5 2"/>
<circle cx="153.3" cy="619.9" r="3.9" fill="#8fcb6e"/>
<line x1="150.5" y1="619.9" x2="156.5" y2="619.9" stroke="#7fbf5f" stroke-width="1" stroke-dasharray="2.5 2"/>
<text transform="translate(173.5,625) scale(0.9804,1)" font-size="15.3" text-anchor="start" fill="#000" >300 mg (N=9)</text>
<line x1="277" y1="619.9" x2="296" y2="619.9" stroke="#c59cf3" stroke-width="1.1" stroke-dasharray="2.5 2"/>
<rect x="282.8" y="616.1999999999999" width="7.4" height="7.4" fill="#bd89f2"/>
<line x1="283.5" y1="619.9" x2="290" y2="619.9" stroke="#a772e8" stroke-width="1" stroke-dasharray="2.5 2"/>
<text transform="translate(307,625) scale(0.9804,1)" font-size="15.3" text-anchor="start" fill="#000" >600 mg (N=9)</text>
<line x1="410" y1="619.9" x2="430" y2="619.9" stroke="#000" stroke-width="1.1"/>
<path d="M416.3,623.3 L423.8,623.3 L420,616.1999999999999 Z" fill="#000"/>
<g transform="translate(440.5,625) scale(0.9804,1)" fill="#000"><text x="0" font-size="15.3" >Composite (N=</text><path transform="translate(102.461,0) scale(0.00747,-0.00747)" d="M763,0L583,0L583,1102Q480,1009 223,889L223,1055Q430,1153 530,1269Q590,1336 646,1409L763,1409Z"/><text x="110.97" font-size="15.3" >8)</text></g>
</svg>
</body></html>
